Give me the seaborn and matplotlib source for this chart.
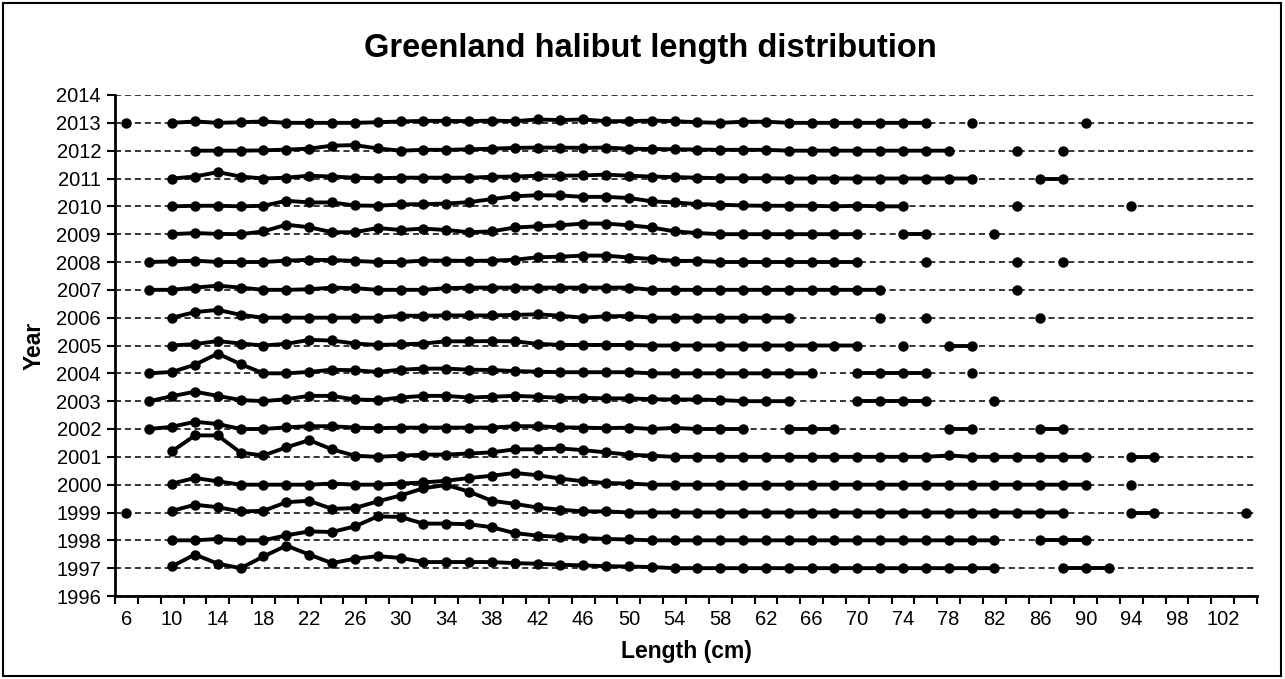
import numpy as np
import pandas as pd
import matplotlib
matplotlib.use("Agg")
import matplotlib.pyplot as plt
import seaborn as sns
from matplotlib.patches import Rectangle

N = None
# length classes (cm)
lengths = list(range(6, 106, 2))
# tick labels shown on x axis
x_tick_labels = [str(v) for v in range(6, 104, 4)]
years = list(range(1997, 2014))
year_ticks = list(range(1996, 2015))

# relative frequency offsets above the year baseline (index = length class 6..104)
y1997 = [N, N, .07, .49, .16, 0, .42, .81, .49, .18,
         .34, .43, .37, .22, .22, .22, .22, .18, .16, .12,
         .10, .07, .06, .04, 0, 0, 0, 0, 0, 0,
         0, 0, 0, 0, 0, 0, 0, 0, 0, N,
         N, 0, 0, 0, N, N, N, N, N, N]
y1998 = [N, N, 0, 0, .05, 0, 0, .18, .32, .30,
         .50, .86, .84, .60, .60, .58, .47, .26, .17, .12,
         .08, .05, .03, 0, 0, 0, 0, 0, 0, 0,
         0, 0, 0, 0, 0, 0, 0, 0, 0, N,
         0, 0, 0, N, N, N, N, N, N, N]
y1999 = [0, N, .06, .28, .19, .04, .06, .37, .42, .13,
         .16, .40, .61, .87, .99, .75, .42, .31, .18, .10,
         .04, .04, 0, 0, 0, 0, 0, 0, 0, 0,
         0, 0, 0, 0, 0, 0, 0, 0, 0, 0,
         0, 0, N, N, 0, 0, N, N, N, 0]
y2000 = [N, N, .04, .24, .12, 0, 0, 0, 0, .04,
         0, 0, .04, .08, .14, .24, .32, .42, .34, .22,
         .12, .06, .04, 0, 0, 0, 0, 0, 0, 0,
         0, 0, 0, 0, 0, 0, 0, 0, 0, 0,
         0, 0, 0, N, 0, N, N, N, N, N]
y2001 = [N, N, .20, .77, .77, .15, .05, .34, .60, .27,
         .04, 0, .04, .08, .08, .12, .16, .27, .27, .30,
         .24, .16, .08, .04, 0, 0, 0, 0, 0, 0,
         0, 0, 0, 0, 0, 0, .05, 0, 0, 0,
         0, 0, 0, N, 0, 0, N, N, N, N]
y2002 = [N, 0, .08, .26, .18, 0, 0, .06, .10, .10,
         .05, .03, .05, .05, .05, .05, .05, .10, .10, .06,
         .05, .03, .05, 0, .04, 0, 0, 0, N, 0,
         0, 0, N, N, N, N, 0, 0, N, N,
         0, 0, N, N, N, N, N, N, N, N]
y2003 = [N, 0, .18, .34, .19, .04, 0, .07, .19, .19,
         .06, .04, .13, .19, .19, .13, .16, .19, .16, .12,
         .12, .10, .10, .07, .06, .06, .04, 0, 0, 0,
         N, N, 0, 0, 0, 0, N, N, 0, N,
         N, N, N, N, N, N, N, N, N, N]
y2004 = [N, 0, .05, .31, .71, .33, 0, 0, .05, .13,
         .11, .05, .13, .17, .17, .13, .12, .08, .06, .04,
         .04, .04, .04, 0, 0, 0, 0, 0, 0, 0,
         0, N, 0, 0, 0, 0, N, 0, N, N,
         N, N, N, N, N, N, N, N, N, N]
y2005 = [N, N, 0, .05, .16, .07, 0, .06, .20, .18,
         .07, .02, .04, .07, .15, .15, .16, .15, .06, .02,
         .02, .02, .02, 0, 0, 0, 0, 0, 0, 0,
         0, 0, 0, N, 0, N, 0, 0, N, N,
         N, N, N, N, N, N, N, N, N, N]
y2006 = [N, N, 0, .20, .28, .10, 0, 0, 0, 0,
         0, 0, .07, .07, .08, .08, .08, .10, .12, .07,
         0, .05, .06, 0, 0, 0, 0, 0, 0, 0,
         N, N, N, 0, N, 0, N, N, N, N,
         0, N, N, N, N, N, N, N, N, N]
y2007 = [N, 0, 0, .08, .15, .08, 0, 0, .02, .08,
         .06, 0, 0, 0, .06, .08, .08, .08, .08, .08,
         .08, .08, .08, 0, 0, 0, 0, 0, 0, 0,
         0, 0, 0, 0, N, N, N, N, N, 0,
         N, N, N, N, N, N, N, N, N, N]
y2008 = [N, 0, .02, .05, 0, 0, 0, .05, .08, .07,
         .04, 0, 0, .05, .05, .04, .05, .08, .17, .19,
         .23, .23, .16, .11, .04, .04, 0, 0, 0, 0,
         0, 0, 0, N, N, 0, N, N, N, 0,
         N, 0, N, N, N, N, N, N, N, N]
y2009 = [N, N, 0, .04, .01, 0, .10, .34, .25, .07,
         .07, .22, .15, .20, .15, .07, .10, .24, .28, .32,
         .38, .38, .32, .24, .10, .04, 0, 0, 0, 0,
         0, 0, 0, N, 0, 0, N, N, 0, N,
         N, N, N, N, N, N, N, N, N, N]
y2010 = [N, N, 0, .02, .02, 0, .02, .20, .14, .14,
         .03, .02, .07, .08, .10, .15, .26, .36, .40, .39,
         .34, .34, .30, .18, .14, .08, .06, .03, .02, .02,
         .02, 0, .02, 0, 0, N, N, N, N, 0,
         N, N, N, N, 0, N, N, N, N, N]
y2011 = [N, N, 0, .07, .23, .07, 0, .03, .10, .07,
         .03, .01, .03, .03, .03, .03, .06, .07, .10, .10,
         .11, .14, .10, .07, .05, .03, .01, .01, .01, 0,
         0, 0, 0, 0, 0, 0, 0, 0, N, N,
         0, 0, N, N, N, N, N, N, N, N]
y2012 = [N, N, N, 0, 0, 0, .01, .04, .07, .18,
         .20, .08, 0, .03, .03, .05, .07, .10, .11, .11,
         .10, .11, .07, .06, .05, .04, .03, .03, .03, 0,
         0, 0, 0, 0, 0, 0, 0, N, N, 0,
         N, 0, N, N, N, N, N, N, N, N]
y2013 = [0, N, 0, .05, 0, .02, .05, 0, 0, 0,
         0, .02, .05, .07, .07, .06, .08, .06, .12, .10,
         .12, .06, .06, .08, .06, .02, 0, .04, .04, 0,
         0, 0, 0, 0, 0, 0, N, 0, N, N,
         N, N, 0, N, N, N, N, N, N, N]

series = {1997: y1997, 1998: y1998, 1999: y1999, 2000: y2000, 2001: y2001,
          2002: y2002, 2003: y2003, 2004: y2004, 2005: y2005, 2006: y2006,
          2007: y2007, 2008: y2008, 2009: y2009, 2010: y2010, 2011: y2011,
          2012: y2012, 2013: y2013}

# long table with contiguous segments as units
rows = []
seg = 0
for yr in years:
    vals = series[yr]
    prev = False
    for i, v in enumerate(vals):
        if v is None:
            prev = False
            continue
        if not prev:
            seg += 1
        prev = True
        rows.append({"year": yr, "pos": i, "length": lengths[i],
                     "value": yr + v, "seg": seg})
df = pd.DataFrame(rows)

sns.set_theme(style="white")
plt.rcParams['font.family'] = ['Liberation Sans', 'DejaVu Sans']

fig = plt.figure(figsize=(12.85, 6.79), dpi=100)
ax = fig.add_axes([115 / 1285, 1 - 596 / 679, (1257 - 115) / 1285, (596 - 95) / 679])

for yr in year_ticks:
    ax.axhline(yr, color="black", linestyle=(0, (4, 2.5)), linewidth=1.1, zorder=1)

sns.lineplot(data=df, x="pos", y="value", units="seg", estimator=None,
             color="black", marker="o", markersize=7.5, markeredgewidth=0,
             linewidth=2.8, sort=False, ax=ax, zorder=3)

ax.set_xlim(-0.5, len(lengths) - 0.5)
ax.set_ylim(1996, 2014)
ax.set_yticks(year_ticks)
ax.set_yticklabels([str(y) for y in year_ticks], fontsize=14.5)
ax.set_xticks(np.arange(0, len(lengths) - 1, 2))
ax.set_xticklabels(x_tick_labels, fontsize=14.5)
ax.set_xticks(np.arange(-0.5, len(lengths), 1), minor=True)
ax.tick_params(axis="x", which="major", length=0, pad=10)
ax.tick_params(axis="x", which="minor", length=6, width=1.5, color="black", direction="out", bottom=True)
ax.tick_params(axis="y", which="major", length=6, width=1.5, color="black", direction="out", left=True, pad=4)
for lab in ax.get_xticklabels() + ax.get_yticklabels():
    lab.set_color("black")

for s in ["top", "right"]:
    ax.spines[s].set_visible(False)
for s in ["left", "bottom"]:
    ax.spines[s].set_color("black")
    ax.spines[s].set_linewidth(2)

ax.set_xlabel("Length (cm)", fontsize=16.5, fontweight="bold", labelpad=8, color="black")
ax.set_ylabel("Year", fontsize=16.5, fontweight="bold", labelpad=8, color="black")
ax.grid(False)

fig.text(0.506, 1 - 48 / 679, "Greenland halibut length distribution",
         ha="center", va="center", fontsize=23.5, fontweight="bold", color="black")

fig.patches.append(Rectangle((3 / 1285, 3 / 679), 1278 / 1285, 673 / 679,
                             transform=fig.transFigure, fill=False,
                             edgecolor="black", linewidth=1.5))

fig.savefig("out.png", dpi=100)
